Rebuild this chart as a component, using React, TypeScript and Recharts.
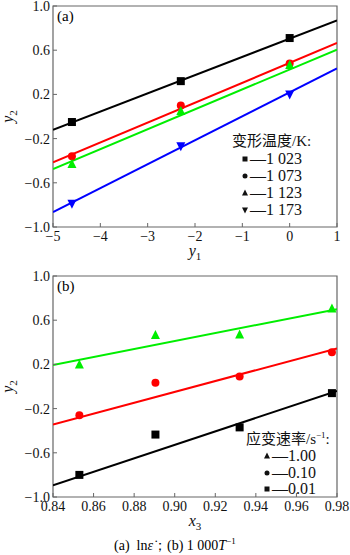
import React from "react";
import { ComposedChart, Line, Scatter, XAxis, YAxis, ReferenceArea } from "recharts";

// panel (a): y2 vs y1 (ln strain rate), one series per temperature
const strainX = [-4.6, -2.3, 0];
const temp1023 = [-0.05, 0.32, 0.71];
const temp1073 = [-0.36, 0.1, 0.48];
const temp1123 = [-0.43, 0.05, 0.465];
const temp1173 = [-0.79, -0.27, 0.2];
const fitXA = [-5, 1];
const fit1023 = [-0.12, 0.87];
const fit1073 = [-0.415, 0.665];
const fit1123 = [-0.475, 0.605];
const fit1173 = [-0.865, 0.435];

// panel (b): y2 vs x3 (1000/T), one series per strain rate
const invTX = [0.853, 0.8905, 0.932, 0.9775];
const rate100 = [0.2, 0.465, 0.47, 0.707];
const rate010 = [-0.26, 0.035, 0.09, 0.31];
const rate001 = [-0.8, -0.435, -0.37, -0.06];
const fitXB = [0.84, 0.98];
const fit100 = [0.195, 0.7];
const fit010 = [-0.345, 0.345];
const fit001 = [-0.895, -0.04];

const ticksA = [-5, -4, -3, -2, -1, 0, 1];
const ticksB = [0.84, 0.86, 0.88, 0.9, 0.92, 0.94, 0.96, 0.98];
const ticksY = [-1, -0.6, -0.2, 0.2, 0.6, 1];

const SERIF = '"Liberation Serif", "Times New Roman", serif';
const CJK = '"Liberation Serif", "Noto Sans CJK SC", serif';
const FRAME = "#666";

const pts = (xs: number[], ys: number[]) => xs.map((x, i) => ({ x, y: ys[i] }));
const neg = (s: string) => s.replace("-", "\u2212");
const fmtInt = (v: number) => neg(String(v));
const fmt1 = (v: number) => neg(v.toFixed(1));
const fmt2 = (v: number) => neg(v.toFixed(2));

const Marker = ({ cx, cy, kind, color, s = 4 }: any) => {
  if (cx == null || cy == null) return null;
  if (kind === "square") return <rect x={cx - s} y={cy - s} width={2 * s} height={2 * s} fill={color} />;
  if (kind === "circle") return <circle cx={cx} cy={cy} r={s} fill={color} />;
  if (kind === "up")
    return <polygon points={`${cx},${cy - s - 1} ${cx - s - 0.5},${cy + s} ${cx + s + 0.5},${cy + s}`} fill={color} />;
  return <polygon points={`${cx},${cy + s + 1} ${cx - s - 0.5},${cy - s} ${cx + s + 0.5},${cy - s}`} fill={color} />;
};

const XTick = ({ x, y, payload, fmt }: any) => (
  <g>
    <line x1={x} x2={x} y1={y} y2={y - 4} stroke={FRAME} />
    <text x={x} y={y + 14} textAnchor="middle" fontSize={14} fontFamily={SERIF} fill="#111">
      {fmt(payload.value)}
    </text>
  </g>
);

const YTick = ({ x, y, payload }: any) => (
  <g>
    <line x1={x} x2={x + 4} y1={y} y2={y} stroke={FRAME} />
    <text x={x - 3} y={y + 5} textAnchor="end" fontSize={14} fontFamily={SERIF} fill="#111">
      {fmt1(payload.value)}
    </text>
  </g>
);

const xLabel = (sym: string, sub: string) => (props: any) => {
  const vb = props.viewBox;
  return (
    <text x={vb.x + vb.width / 2} y={vb.y + 29} textAnchor="middle" fontFamily={SERIF} fontSize={16} fill="#111">
      <tspan fontStyle="italic">{sym}</tspan>
      <tspan dy={4} fontSize={11}>{sub}</tspan>
    </text>
  );
};

const yLabel = (props: any) => {
  const vb = props.viewBox;
  const cx = vb.x + 5;
  const cy = vb.y + vb.height / 2;
  return (
    <text x={cx} y={cy} transform={`rotate(-90, ${cx}, ${cy})`} textAnchor="middle" fontFamily={SERIF} fontSize={16} fill="#111">
      <tspan fontStyle="italic">y</tspan>
      <tspan dy={4} fontSize={11}>2</tspan>
    </text>
  );
};

type Series = { name: string; xs: number[]; ys: number[]; fit: number[]; color: string; kind: string };

const seriesA: Series[] = [
  { name: "1 023", xs: strainX, ys: temp1023, fit: fit1023, color: "#000000", kind: "square" },
  { name: "1 073", xs: strainX, ys: temp1073, fit: fit1073, color: "#ff0000", kind: "circle" },
  { name: "1 123", xs: strainX, ys: temp1123, fit: fit1123, color: "#00ee00", kind: "up" },
  { name: "1 173", xs: strainX, ys: temp1173, fit: fit1173, color: "#0000ff", kind: "down" },
];

const seriesB: Series[] = [
  { name: "1.00", xs: invTX, ys: rate100, fit: fit100, color: "#00ee00", kind: "up" },
  { name: "0.10", xs: invTX, ys: rate010, fit: fit010, color: "#ff0000", kind: "circle" },
  { name: "0.01", xs: invTX, ys: rate001, fit: fit001, color: "#000000", kind: "square" },
];

function Panel({ series, fitX, domain, ticks, fmt, xSub }: any) {
  return (
    <ComposedChart width={350} height={265} margin={{ top: 6, right: 13, left: 8, bottom: 0 }}>
      <XAxis
        dataKey="x"
        type="number"
        domain={domain}
        ticks={ticks}
        allowDataOverflow
        height={38}
        tickSize={0}
        tickMargin={0}
        axisLine={false}
        tickLine={false}
        interval={0}
        tick={(p: any) => <XTick {...p} fmt={fmt} />}
        label={{ content: xLabel(xSub[0], xSub[1]) }}
      />
      <YAxis
        dataKey="y"
        type="number"
        domain={[-1, 1]}
        ticks={ticksY}
        allowDataOverflow
        width={45}
        tickSize={0}
        tickMargin={0}
        axisLine={false}
        tickLine={false}
        interval={0}
        tick={(p: any) => <YTick {...p} />}
        label={{ content: yLabel }}
      />
      <ReferenceArea x1={domain[0]} x2={domain[1]} y1={-1} y2={1} fill="none" stroke={FRAME} strokeWidth={1.2} />
      {series.map((s: Series) => (
        <Line
          key={"f" + s.name}
          data={pts(fitX, s.fit)}
          dataKey="y"
          stroke={s.color}
          strokeWidth={2}
          dot={false}
          activeDot={false}
          isAnimationActive={false}
        />
      ))}
      {series.map((s: Series) => (
        <Scatter
          key={"p" + s.name}
          data={pts(s.xs, s.ys)}
          dataKey="y"
          fill={s.color}
          isAnimationActive={false}
          shape={(p: any) => <Marker cx={p.cx} cy={p.cy} kind={s.kind} color={s.color} />}
        />
      ))}
    </ComposedChart>
  );
}

function LegendBox({ title, series, left, top, rowH, markerGap }: any) {
  return (
    <div style={{ position: "absolute", left, top, fontFamily: SERIF, color: "#111" }}>
      <div style={{ fontFamily: CJK, fontSize: 15, lineHeight: `${rowH}px`, whiteSpace: "nowrap" }}>{title}</div>
      {series.map((s: Series) => (
        <div key={s.name} style={{ display: "flex", alignItems: "center", height: rowH, paddingLeft: markerGap, fontSize: 16, whiteSpace: "nowrap" }}>
          <svg width={8} height={8} style={{ marginRight: 1 }}>
            <Marker cx={4} cy={4} kind={s.kind} color="#111" s={2.5} />
          </svg>
          <span>{"\u2014" + s.name}</span>
        </div>
      ))}
    </div>
  );
}

export default function App() {
  return (
    <div style={{ position: "absolute", left: 0, top: 0, width: 350, height: 555, background: "#fff", fontFamily: SERIF }}>
      <div style={{ position: "absolute", left: 0, top: 0 }}>
        <Panel series={seriesA} fitX={fitXA} domain={[-5, 1]} ticks={ticksA} fmt={fmtInt} xSub={["y", "1"]} />
        <div style={{ position: "absolute", left: 57, top: 8, fontSize: 15 }}>(a)</div>
        <LegendBox title="变形温度/K:" series={seriesA} left={232} top={133} rowH={17} markerGap={9} />
      </div>
      <div style={{ position: "absolute", left: 0, top: 270 }}>
        <Panel series={seriesB} fitX={fitXB} domain={[0.84, 0.98]} ticks={ticksB} fmt={fmt2} xSub={["x", "3"]} />
        <div style={{ position: "absolute", left: 57, top: 8, fontSize: 15 }}>(b)</div>
        <LegendBox
          title={<span>应变速率/s<sup style={{ fontSize: 9 }}>−1</sup>:</span>}
          series={seriesB}
          left={246}
          top={157}
          rowH={16.7}
          markerGap={17}
        />
      </div>
      <div style={{ position: "absolute", left: 114, top: 536, fontSize: 14, whiteSpace: "nowrap" }}>
        (a)&nbsp; ln<i>ε̇</i>；(b) 1 000<i>T</i>
        <sup style={{ fontSize: 9 }}>−1</sup>
      </div>
    </div>
  );
}
